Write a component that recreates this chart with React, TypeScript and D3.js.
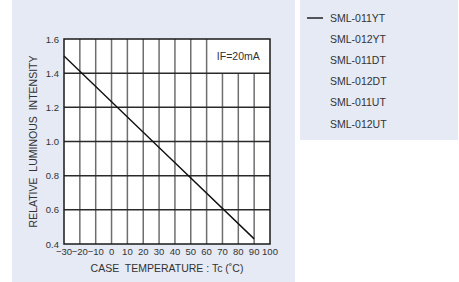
import * as d3 from "d3";

const series = ["SML-011YT", "SML-012YT", "SML-011DT", "SML-012DT", "SML-011UT", "SML-012UT"];
const temps = [-30, 30, 90];
const intensity = [1.5, 0.965, 0.43];
const xTicks = [-30, -20, -10, 0, 10, 20, 30, 40, 50, 60, 70, 80, 90, 100];
const yTicks = [0.4, 0.6, 0.8, 1.0, 1.2, 1.4, 1.6];

const font = "Liberation Sans, Arial, sans-serif";
const bg = "#e5eaf5";

export default function App() {
  const left = 64, right = 270, top = 39, bottom = 244;
  const x = d3.scaleLinear().domain([-30, 100]).range([left, right]);
  const y = d3.scaleLinear().domain([0.4, 1.6]).range([bottom, top]);
  const pts = temps.map((t, i) => [t, intensity[i]] as [number, number]);
  const line = d3.line<[number, number]>().x(d => x(d[0])).y(d => y(d[1]));

  return (
    <svg width={459} height={282} style={{ position: "absolute", left: 0, top: 0 }}>
      <rect x={12} y={0} width={283} height={282} fill={bg} />
      <rect x={300} y={0} width={158} height={140} fill={bg} />
      <rect x={left} y={top} width={right - left} height={bottom - top} fill="#fff" />
      {xTicks.slice(1, -1).map(t => (
        <line key={"v" + t} x1={x(t)} x2={x(t)} y1={t > 60 ? y(1.4) : top} y2={bottom}
          stroke="#6e6e6e" strokeWidth={1.5} />
      ))}
      {yTicks.slice(1, -1).map(v => (
        <line key={"h" + v} x1={left} x2={right} y1={y(v)} y2={y(v)} stroke="#2a2a2a" strokeWidth={1.5} />
      ))}
      <rect x={left} y={top} width={right - left} height={bottom - top} fill="none" stroke="#1a1a1a" strokeWidth={1.5} />
      <text x={(x(60) + right) / 2} y={(top + y(1.4)) / 2 + 4} textAnchor="middle" fontFamily={font} fontSize={10.5} fill="#333">IF=20mA</text>
      <path d={line(pts) ?? ""} fill="none" stroke="#111" strokeWidth={1.4} />
      {yTicks.map(v => (
        <text key={"yl" + v} x={left - 5} y={y(v) + 3.5} textAnchor="end" fontFamily={font} fontSize={9.5} fill="#333">{v.toFixed(1)}</text>
      ))}
      {xTicks.map(t => (
        <text key={"xl" + t} x={x(t)} y={bottom + 11} textAnchor="middle" fontFamily={font} fontSize={9.5} fill="#333">{t < 0 ? "\u2212" + Math.abs(t) : t}</text>
      ))}
      <text x={(left + right) / 2} y={272} textAnchor="middle" fontFamily={font} fontSize={10.5} fill="#333" xmlSpace="preserve">CASE  TEMPERATURE : Tc (˚C)</text>
      <text transform={`translate(37,${(top + bottom) / 2}) rotate(-90)`} textAnchor="middle" fontFamily={font} fontSize={10.5} fill="#333" xmlSpace="preserve">RELATIVE  LUMINOUS  INTENSITY</text>
      <line x1={307} x2={323} y1={18} y2={18} stroke="#222" strokeWidth={1.5} />
      {series.map((s, i) => (
        <text key={s} x={330} y={18 + i * 21.2 + 3.5} fontFamily={font} fontSize={10.5} fill="#333">{s}</text>
      ))}
    </svg>
  );
}
